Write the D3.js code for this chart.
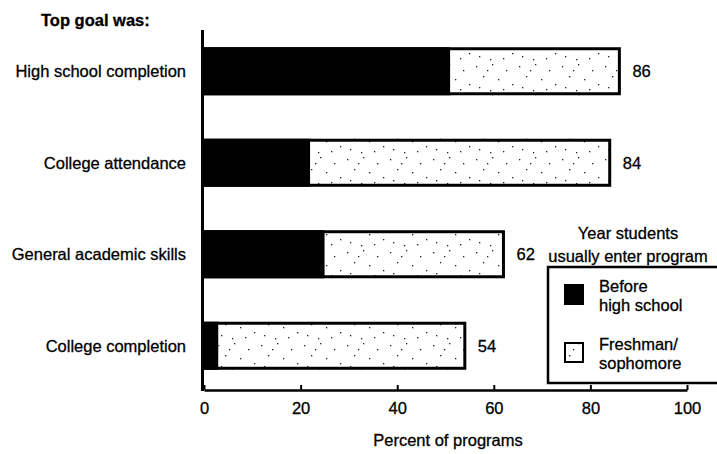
<!DOCTYPE html>
<html><head><meta charset="utf-8">
<script src="https://cdn.jsdelivr.net/npm/d3@7/dist/d3.min.js"></script>
<style>
body{margin:0;background:#fff;}
text{font-family:"Liberation Sans",Arial,Helvetica,sans-serif;fill:#000;stroke:#000;stroke-width:0.3px;}
</style></head>
<body><svg id="c" width="717" height="454"></svg>
<script>
const categories = ["High school completion","College attendance","General academic skills","College completion"];
const beforeHS = [51, 22, 25, 3];
const freshSoph = [35, 62, 37, 51];
const totals = [86, 84, 62, 54];
const xTicks = [0, 20, 40, 60, 80, 100];
const legendTitle = ["Year students", "usually enter program"];
const legendItems = [["Before", "high school"], ["Freshman/", "sophomore"]];

const svg = d3.select("#c");
const FS = 16.5;

// stipple pattern
const defs = svg.append("defs");
const pat = defs.append("pattern").attr("id","stip").attr("patternUnits","userSpaceOnUse")
  .attr("width",43).attr("height",31);
pat.append("rect").attr("width",43).attr("height",31).attr("fill","#fff");
const dots = [[3,4],[19,2],[33,8],[10,14],[25,17],[39,22],[6,25],[17,28],[30,27],[14,8]];
pat.selectAll("rect.d").data(dots).join("rect").attr("class","d")
  .attr("x",d=>d[0]).attr("y",d=>d[1]).attr("width",1.3).attr("height",1.3).attr("fill","#222");

const x = d3.scaleLinear().domain([0,100]).range([204,687]);
const y = d3.scaleBand().domain(categories).range([25.5,391.5]).paddingInner(0.475).paddingOuter(0.2375);

// bars
const g = svg.append("g");
categories.forEach((c,i)=>{
  const y0 = y(c), h = y.bandwidth();
  g.append("rect").attr("x",x(0)).attr("y",y0).attr("width",x(beforeHS[i])-x(0)).attr("height",h).attr("fill","#000");
  g.append("rect").attr("x",x(beforeHS[i])).attr("y",y0)
    .attr("width",x(beforeHS[i]+freshSoph[i])-x(beforeHS[i])).attr("height",h)
    .attr("fill","url(#stip)");
  g.append("rect").attr("x",x(0)).attr("y",y0+1.5)
    .attr("width",x(beforeHS[i]+freshSoph[i])-x(0)).attr("height",h-3)
    .attr("fill","none").attr("stroke","#000").attr("stroke-width",3);
  g.append("text").attr("x",x(totals[i])+13).attr("y",y0+h/2).attr("dy","0.35em")
    .attr("font-size",FS).text(totals[i]);
  g.append("text").attr("x",186).attr("y",y0+h/2).attr("dy","0.35em")
    .attr("text-anchor","end").attr("font-size",FS).text(c);
});

// vertical axis line
svg.append("line").attr("x1",202.5).attr("x2",202.5).attr("y1",30).attr("y2",391)
  .attr("stroke","#000").attr("stroke-width",3);

// x axis
const ax = svg.append("g").attr("transform","translate(0,390)")
  .call(d3.axisBottom(x).tickValues(xTicks).tickSize(-5).tickSizeOuter(0).tickPadding(12));
ax.select(".domain").attr("stroke","#000").attr("stroke-width",2.5);
ax.selectAll(".tick line").attr("stroke","#000").attr("stroke-width",2);
ax.selectAll(".tick text").attr("font-size",FS).attr("font-family","Liberation Sans, Arial, sans-serif").attr("fill","#000");

svg.append("text").attr("x",448).attr("y",440).attr("dy","0.35em").attr("text-anchor","middle")
  .attr("font-size",FS).text("Percent of programs");
svg.append("text").attr("x",41).attr("y",20).attr("dy","0.35em").attr("font-weight","bold")
  .attr("font-size",FS).text("Top goal was:");

// legend
const lg = svg.append("g");
lg.append("rect").attr("x",548).attr("y",267).attr("width",180).attr("height",116)
  .attr("fill","#fff").attr("stroke","#000").attr("stroke-width",2.5);
legendTitle.forEach((t,i)=>lg.append("text").attr("x",628).attr("y",233+i*23).attr("dy","0.35em")
  .attr("text-anchor","middle").attr("font-size",FS).text(t));
const swY = [285, 343];
legendItems.forEach((lines,i)=>{
  lg.append("rect").attr("x",565).attr("y",swY[i]).attr("width",18).attr("height",19)
    .attr("fill", i===0 ? "#000" : "url(#stip)").attr("stroke","#000").attr("stroke-width",2);
  lines.forEach((t,j)=>lg.append("text").attr("x",599).attr("y",swY[i]+1+j*19).attr("dy","0.35em")
    .attr("font-size",FS).text(t));
});
</script></body></html>
